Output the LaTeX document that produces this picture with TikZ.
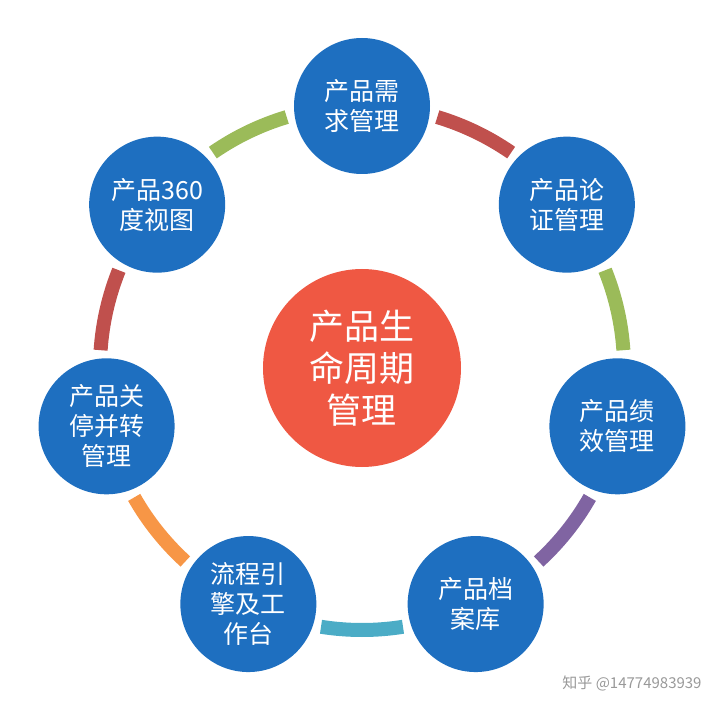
\documentclass[tikz,border=0pt]{standalone}
\usepackage{fontspec}
\newfontfamily\cjk{Noto Sans CJK SC}
\usetikzlibrary{calc}
\definecolor{itemblue}{HTML}{1E6FC0}
\definecolor{hubred}{HTML}{EF5843}
\definecolor{segGreen}{HTML}{9BBB59}
\definecolor{segRed}{HTML}{C0504D}
\definecolor{segOrange}{HTML}{F79646}
\definecolor{segTeal}{HTML}{4BACC6}
\definecolor{segPurple}{HTML}{8064A2}

\begin{document}
\begin{tikzpicture}[x=1pt, y=1pt,
  item/.style={circle, fill=itemblue, minimum size=136pt, inner sep=0pt, align=center, text=white, font=\cjk\fontsize{25}{30}\selectfont},
  hub/.style={circle, fill=hubred, minimum size=198pt, inner sep=0pt, align=center, text=white, font=\cjk\fontsize{35}{42}\selectfont},
  seg/.style={line width=14pt},
  credit/.style={text=black!40, font=\cjk\fontsize{15}{18}\selectfont}]
\useasboundingbox (-362,-344) rectangle (358,368);
% centre
\node[hub] (life) at (0,0) {产品生\\命周期\\管理};
% ring of modules
\node[item] (demand) at (90:262) {产品需\\求管理};
\node[item] (view) at (141.43:262) {产品360\\度视图};
\node[item] (retire) at (192.86:262) {产品关\\停并转\\管理};
\node[item] (engine) at (244.29:262) {流程引\\擎及工\\作台};
\node[item] (archive) at (295.71:262) {产品档\\案库};
\node[item] (perf) at (347.14:262) {产品绩\\效管理};
\node[item] (proof) at (38.57:262) {产品论\\证管理};
% ring segments
\draw[seg, segGreen] (life.center) ++(106.7:262) arc[start angle=106.7, end angle=124.7, radius=262];
\draw[seg, segRed] (life.center) ++(158.1:262) arc[start angle=158.1, end angle=176.1, radius=262];
\draw[seg, segOrange] (life.center) ++(209.6:262) arc[start angle=209.6, end angle=227.6, radius=262];
\draw[seg, segTeal] (life.center) ++(261.0:262) arc[start angle=261.0, end angle=279.0, radius=262];
\draw[seg, segPurple] (life.center) ++(312.4:262) arc[start angle=312.4, end angle=330.4, radius=262];
\draw[seg, segGreen] (life.center) ++(3.9:262) arc[start angle=3.9, end angle=21.9, radius=262];
\draw[seg, segRed] (life.center) ++(55.3:262) arc[start angle=55.3, end angle=73.3, radius=262];
% watermark
\node[credit] (credit) at (270,-315) {知乎 @14774983939};
\end{tikzpicture}
\end{document}
